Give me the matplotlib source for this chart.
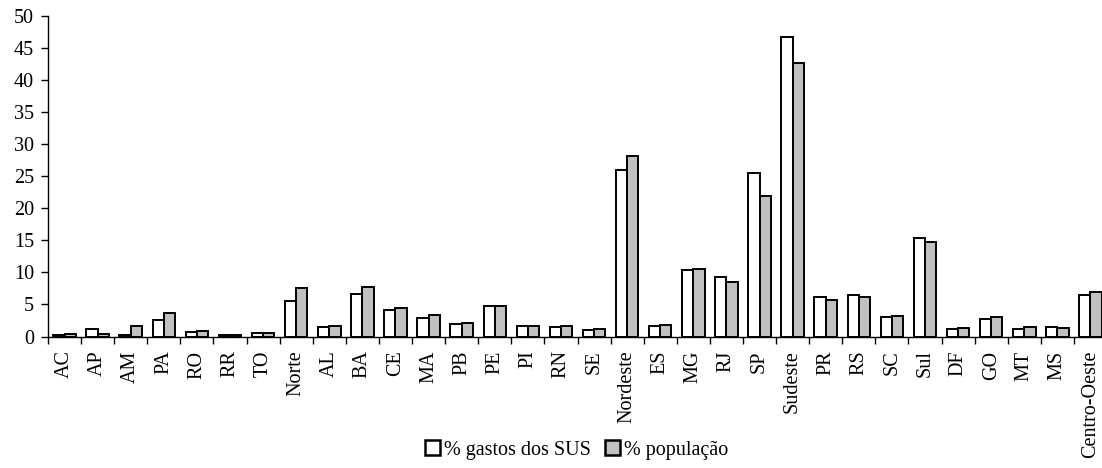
import matplotlib
matplotlib.use("Agg")
import matplotlib.pyplot as plt
from matplotlib.ticker import FixedLocator, NullFormatter
import numpy as np

categories = ["AC", "AP", "AM", "PA", "RO", "RR", "TO", "Norte",
              "AL", "BA", "CE", "MA", "PB", "PE", "PI", "RN", "SE", "Nordeste",
              "ES", "MG", "RJ", "SP", "Sudeste",
              "PR", "RS", "SC", "Sul",
              "DF", "GO", "MT", "MS", "Centro-Oeste"]

gastos_sus = [0.3, 1.1, 0.2, 2.6, 0.7, 0.2, 0.6, 5.6,
              1.5, 6.6, 4.2, 2.9, 2.0, 4.8, 1.7, 1.5, 1.0, 25.9,
              1.6, 10.4, 9.3, 25.5, 46.7,
              6.1, 6.4, 3.0, 15.3,
              1.2, 2.8, 1.2, 1.5, 6.4]

populacao = [0.4, 0.4, 1.7, 3.7, 0.9, 0.2, 0.6, 7.6,
             1.7, 7.7, 4.4, 3.4, 2.1, 4.7, 1.7, 1.6, 1.1, 28.2,
             1.8, 10.6, 8.5, 21.9, 42.7,
             5.7, 6.1, 3.2, 14.7,
             1.3, 3.0, 1.5, 1.3, 6.9]

plt.rcParams["font.family"] = ["Liberation Serif", "DejaVu Serif"]
FS = 14.5

fig = plt.figure(figsize=(11.02, 4.68), dpi=100)
ax = fig.add_axes([48 / 1102, 131.5 / 468, 1059 / 1102, 320.5 / 468])

x = np.arange(len(categories)) + 0.5
w = 0.34
ax.bar(x - w / 2, gastos_sus, width=w, color="white", edgecolor="black",
       linewidth=1.4, label="% gastos dos SUS", zorder=3)
ax.bar(x + w / 2, populacao, width=w, color="#c0c0c0", edgecolor="black",
       linewidth=1.4, label="% população", zorder=3)

ax.set_xlim(0, len(categories))
ax.set_ylim(0, 50)
ax.set_yticks(np.arange(0, 51, 5))

# category boundaries carry the tick marks, names sit at category centres
ax.xaxis.set_major_locator(FixedLocator(np.arange(0, len(categories) + 1)))
ax.xaxis.set_major_formatter(NullFormatter())
ax.xaxis.set_minor_locator(FixedLocator(x))
ax.set_xticklabels(categories, minor=True, rotation=90, fontsize=FS)
ax.tick_params(axis="x", which="minor", length=0, pad=10)
ax.tick_params(axis="x", which="major", length=5, width=1, direction="out")
ax.tick_params(axis="y", length=5, width=1, direction="out", labelsize=FS, pad=5)

for side in ("top", "right"):
    ax.spines[side].set_visible(False)
for side in ("left", "bottom"):
    ax.spines[side].set_linewidth(1)

leg = ax.legend(loc="center", bbox_to_anchor=((577 - 48) / 1059, (131.5 - 18) / 320.5 - 0.0),
                bbox_transform=ax.transAxes, ncol=2,
                frameon=False, fontsize=FS, handlelength=0.75, handleheight=0.75,
                handletextpad=0.2, columnspacing=0.7, borderaxespad=0, borderpad=0)
leg.set_bbox_to_anchor(((577 - 48) / 1059, -(336.5 - 450) / -320.5 * 1.0), transform=ax.transAxes)
for h in leg.legend_handles:
    h.set_linewidth(1.8)

fig.savefig("out.png", dpi=100)
